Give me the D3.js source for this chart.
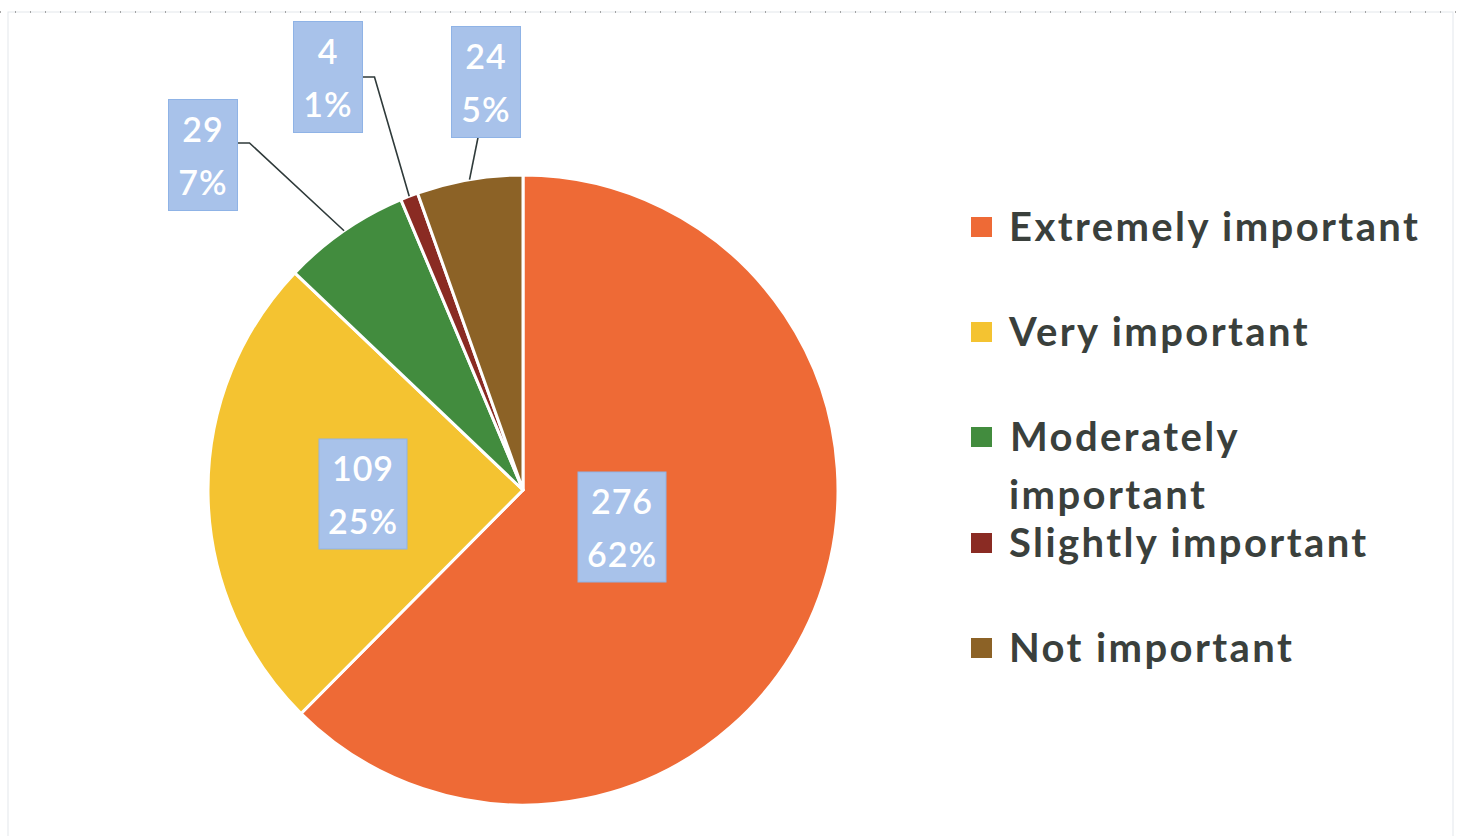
<!DOCTYPE html>
<html>
<head>
<meta charset="utf-8">
<script src="https://cdn.jsdelivr.net/npm/d3@7"></script>
<style>
  body { margin: 0; background: #fff; }
  svg { display: block; }
</style>
</head>
<body>
<div id="chart"></div>
<script>
// data
const categories = ["Extremely important", "Very important", "Moderately important", "Slightly important", "Not important"];
const counts = [276, 109, 29, 4, 24];
const percentLabels = ["62%", "25%", "7%", "1%", "5%"];
const colors = ["#ee6a36", "#f4c331", "#428c3e", "#8a2b23", "#8c6226"];

const W = 1461, H = 836;
const cx = 523, cy = 490, radius = 315;

const svg = d3.select("#chart").append("svg")
    .attr("width", W)
    .attr("height", H);

// chart frame (faint, like the scanned page)
svg.append("rect")
    .attr("x", 8).attr("y", 12)
    .attr("width", 1445).attr("height", 840)
    .attr("fill", "none")
    .attr("stroke", "#e3e7ec")
    .attr("stroke-width", 1);
svg.append("line")
    .attr("x1", 0).attr("x2", W)
    .attr("y1", 12).attr("y2", 12)
    .attr("stroke", "#555")
    .attr("stroke-width", 1.2)
    .attr("stroke-dasharray", "1,14");

const pie = d3.pie().sort(null).value(d => d);
const arcs = pie(counts);

const arc = d3.arc().innerRadius(0).outerRadius(radius);

const g = svg.append("g").attr("transform", `translate(${cx},${cy})`);

g.selectAll("path.slice")
    .data(arcs)
    .enter()
    .append("path")
    .attr("class", "slice")
    .attr("d", arc)
    .attr("fill", (d, i) => colors[i])
    .attr("stroke", "#fff")
    .attr("stroke-width", 3)
    .attr("stroke-linejoin", "round");

// label placement: offset of box centre from pie centre, per slice
// (inside labels for the two big slices, callouts for the small ones)
const labelOffsets = [[99, 37], [-160, 4], [-320, -335], [-195, -413], [-37, -408]];
const boxW = 88, boxH = 110;
const smallW = 69, smallH = 111;

function midPoint(d, r) {
    const a = (d.startAngle + d.endAngle) / 2;
    return [Math.sin(a) * r, -Math.cos(a) * r];
}

// leader lines for the callouts
arcs.forEach(function (d, i) {
    if (i < 2) return;
    const off = labelOffsets[i];
    const p = midPoint(d, radius);
    let pts;
    if (i === 4) {
        // box sits above the slice: line leaves from the box bottom
        pts = [[off[0] - 8, off[1] + smallH / 2], p];
    } else {
        const bx = off[0] + smallW / 2;
        const by = i === 2 ? off[1] - 12 : off[1];
        pts = [[bx, by], [bx + 12, by], p];
    }
    g.append("path")
        .attr("d", d3.line()(pts))
        .attr("fill", "none")
        .attr("stroke", "#2f3a3a")
        .attr("stroke-width", 1.6);
});

const labels = g.selectAll("g.lbl")
    .data(arcs)
    .enter()
    .append("g")
    .attr("class", "lbl")
    .attr("transform", (d, i) => `translate(${labelOffsets[i][0]},${labelOffsets[i][1]})`);

labels.append("rect")
    .attr("x", (d, i) => -(i < 2 ? boxW : smallW) / 2)
    .attr("y", (d, i) => -(i < 2 ? boxH : smallH) / 2)
    .attr("width", (d, i) => i < 2 ? boxW : smallW)
    .attr("height", (d, i) => i < 2 ? boxH : smallH)
    .attr("fill", "#a8c2ea")
    .attr("stroke", "#8fb3e6")
    .attr("stroke-width", 1);

labels.append("text")
    .attr("text-anchor", "middle")
    .attr("y", -13)
    .attr("fill", "#fff")
    .style("font-family", "Lato, 'Open Sans', sans-serif")
    .style("font-weight", 600)
    .style("font-size", "34px")
    .style("letter-spacing", "1px")
    .text((d, i) => counts[i]);

labels.append("text")
    .attr("text-anchor", "middle")
    .attr("y", 40)
    .attr("fill", "#fff")
    .style("font-family", "Lato, 'Open Sans', sans-serif")
    .style("font-weight", 600)
    .style("font-size", "34px")
    .style("letter-spacing", "1px")
    .text((d, i) => percentLabels[i]);

// legend
const legendX = 971;
const legendRows = [227, 332, 437, 543, 648];
const legend = svg.append("g");

categories.forEach(function (c, i) {
    const row = legend.append("g").attr("transform", `translate(${legendX},${legendRows[i]})`);
    row.append("rect")
        .attr("x", 0).attr("y", -10)
        .attr("width", 21).attr("height", 20)
        .attr("fill", colors[i]);
    const t = row.append("text")
        .attr("x", 38)
        .attr("y", 14)
        .attr("fill", "#3a403c")
        .style("font-family", "Lato, 'Open Sans', sans-serif")
        .style("font-weight", 700)
        .style("font-size", "40px")
        .style("letter-spacing", "2.4px");
    if (c === "Moderately important") {
        t.append("tspan").attr("x", 39).text("Moderately");
        t.append("tspan").attr("x", 38).attr("dy", 58).text("important");
    } else {
        t.text(c);
    }
});
</script>
</body>
</html>
